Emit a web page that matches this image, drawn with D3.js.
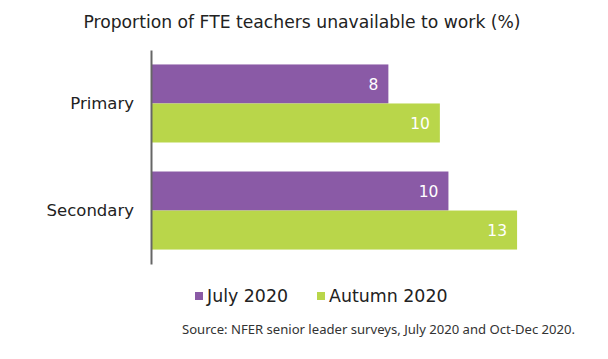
<!DOCTYPE html>
<html><head><meta charset="utf-8">
<script src="https://cdn.jsdelivr.net/npm/d3@7"></script>
<style>body{margin:0;background:#fff}svg{display:block}text{font-family:"DejaVu Sans",sans-serif}</style>
</head><body>
<script>
const categories = ["Primary", "Secondary"];
const seriesNames = ["July 2020", "Autumn 2020"];
const july2020 = [8.3, 10.4];
const autumn2020 = [10.1, 12.8];
const colors = ["#8a5aa6", "#b9d64a"];
const titleText = "Proportion of FTE teachers unavailable to work (%)";
const sourceText = "Source: NFER senior leader surveys, July 2020 and Oct-Dec 2020.";

const W = 608, H = 359;
const svg = d3.select("body").append("svg").attr("width", W).attr("height", H);

const x = d3.scaleLinear().domain([0, 14]).range([151, 151 + 14 * 28.6]);
const y = d3.scaleBand().domain(categories).range([50, 264]).paddingInner(0.271).paddingOuter(0.135);
const ys = d3.scaleBand().domain(seriesNames).range([0, y.bandwidth()]);

svg.append("text").attr("x", 302).attr("y", 28).attr("text-anchor", "middle")
  .attr("font-size", 17.2).attr("fill", "#222").text(titleText);

const series = [july2020, autumn2020];
series.forEach((vals, si) => {
  const g = svg.append("g");
  g.selectAll("rect").data(vals).join("rect")
    .attr("x", x(0)).attr("y", (d, i) => y(categories[i]) + ys(seriesNames[si]))
    .attr("width", d => x(d) - x(0)).attr("height", ys.bandwidth())
    .attr("fill", colors[si]);
  g.selectAll("text").data(vals).join("text")
    .attr("x", d => x(d) - 10).attr("y", (d, i) => y(categories[i]) + ys(seriesNames[si]) + ys.bandwidth() / 2)
    .attr("dy", "0.36em").attr("text-anchor", "end").attr("font-size", 15.5).attr("fill", "#fff")
    .text(d => d3.format(".0f")(d));
});

const axis = svg.append("g").attr("transform", `translate(${x(0)},0)`)
  .call(d3.axisLeft(y).tickSize(0).tickPadding(17));
axis.select(".domain").attr("stroke", "#666").attr("stroke-width", 2);
axis.selectAll("text").attr("font-size", 16.5).attr("fill", "#222").style("font-family", '"DejaVu Sans",sans-serif');

const legendX = [195, 317];
seriesNames.forEach((s, i) => {
  svg.append("rect").attr("x", legendX[i]).attr("y", 292).attr("width", 8).attr("height", 8).attr("fill", colors[i]);
  svg.append("text").attr("x", legendX[i] + 12).attr("y", 302).attr("font-size", 17.4).attr("fill", "#222").text(s);
});

svg.append("text").attr("x", 182).attr("y", 334).attr("font-size", 13.1).attr("fill", "#333")
  .style("font-family", '"Noto Sans",sans-serif').text(sourceText);
</script>
</body></html>
